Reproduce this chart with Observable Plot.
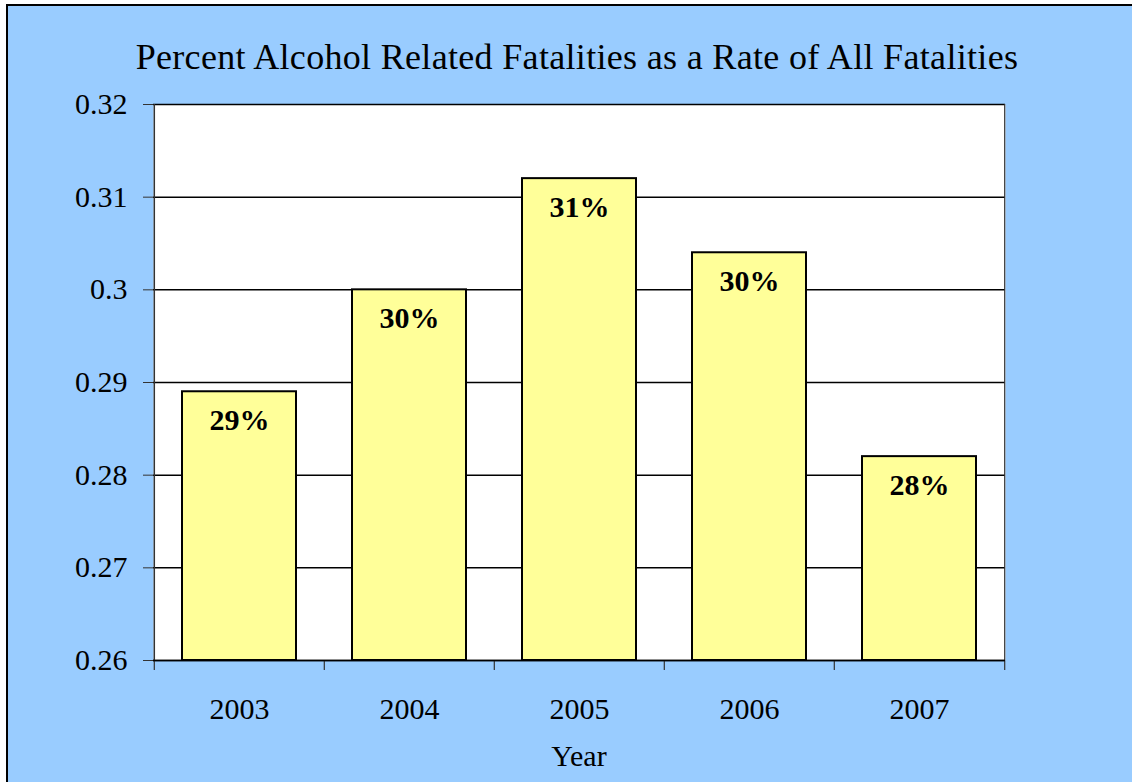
<!DOCTYPE html>
<html>
<head>
<meta charset="utf-8">
<script src="https://cdn.jsdelivr.net/npm/d3@7"></script>
<script src="https://cdn.jsdelivr.net/npm/@observablehq/plot@0.6"></script>
<style>
  html, body { margin: 0; padding: 0; background: #fff; }
  #wrap { position: relative; width: 1132px; height: 782px; overflow: hidden; }
  #bg { position: absolute; left: 6px; top: 4px; right: -4px; bottom: -4px; background: #99ccff; border-left: 2px solid #000; border-top: 2px solid #000; }
  #title { position: absolute; left: 0; width: 1154px; top: 36px; text-align: center; font-size: 36px; letter-spacing: 0.32px; color: #000; white-space: nowrap; font-family: 'Liberation Serif' !important; }
  #xlabel { position: absolute; left: 0; width: 1158px; top: 739px; text-align: center; font-size: 30px; color: #000; font-family: 'Liberation Serif' !important; }
  #chart { position: absolute; left: 0; top: 0; }
  #chart svg, #chart svg text { font-family: 'Liberation Serif' !important; }
</style>
</head>
<body>
<div id="wrap">
  <div id="bg"></div>
  <div id="chart"></div>
  <div id="title">Percent Alcohol Related Fatalities as a Rate of All Fatalities</div>
  <div id="xlabel">Year</div>
</div>
<script>
const years = ["2003", "2004", "2005", "2006", "2007"];
const rates = [0.289, 0.300, 0.312, 0.304, 0.282];
const yTicks = [0.26, 0.27, 0.28, 0.29, 0.30, 0.31, 0.32];
const baseline = 0.26;

const data = years.map((y, i) => ({year: y, rate: rates[i]}));

const W = 1132, H = 782;
const mL = 153, mR = 127, mT = 104, mB = 122;
const step = (W - mL - mR) / years.length;

const plot = Plot.plot({
  width: W,
  height: H,
  marginLeft: mL,
  marginRight: mR,
  marginTop: mT,
  marginBottom: mB,
  style: {background: "transparent", fontSize: "30px", color: "#000"},
  x: {domain: years, paddingInner: 0.33, paddingOuter: 0.165, label: null},
  y: {domain: [0.26, 0.32], label: null},
  marks: [
    Plot.frame({fill: "white", stroke: null}),
    Plot.ruleY(yTicks, {stroke: "#000", strokeWidth: 1.5}),
    Plot.barY(data, {x: "year", y1: baseline, y2: "rate", fill: "#ffff99", stroke: "#000", strokeWidth: 2}),
    Plot.text(data, {x: "year", y: "rate", text: d => d3.format(".0%")(d.rate), dy: 29, fontWeight: "bold", fontSize: 30, fill: "#000"}),
    Plot.axisY({ticks: yTicks, tickFormat: d => String(+d.toFixed(2)), tickSize: 10, tickPadding: 16, stroke: "#333", fontSize: 30, label: null}),
    Plot.axisX({tickSize: 0, tickPadding: 37, fontSize: 30, label: null}),
    Plot.ruleX(years, {x: d => d, dx: -step / 2, y1: baseline, y2: baseline, insetBottom: -10, stroke: "#333", strokeWidth: 1.2}),
    Plot.ruleX([years[years.length - 1]], {x: d => d, dx: step / 2, y1: baseline, y2: baseline, insetBottom: -10, stroke: "#333", strokeWidth: 1.2}),
    Plot.ruleX([years[0]], {x: d => d, dx: -step / 2, stroke: "#333", strokeWidth: 1.5}),
    Plot.ruleX([years[years.length - 1]], {x: d => d, dx: step / 2, stroke: "#333", strokeWidth: 1.2}),
    Plot.ruleY([baseline], {stroke: "#000", strokeWidth: 1.5})
  ]
});
document.getElementById("chart").appendChild(plot);
</script>
</body>
</html>
